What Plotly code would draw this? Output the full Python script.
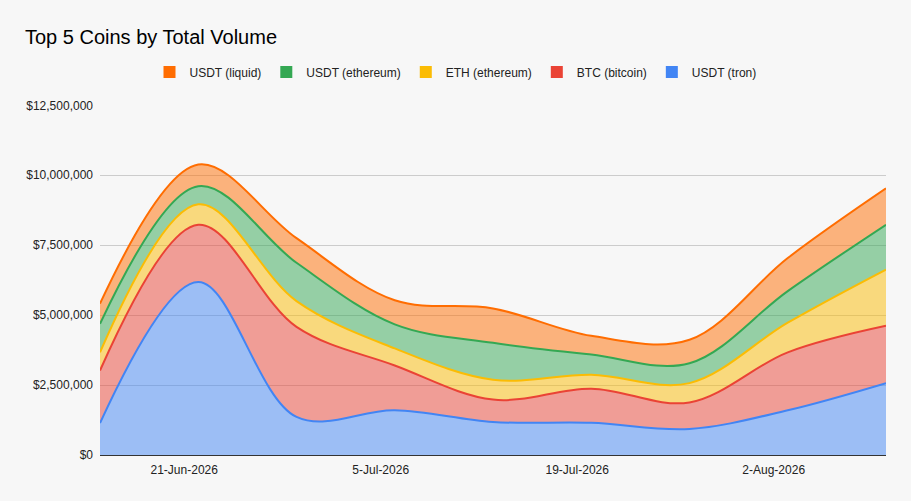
import plotly.graph_objects as go

dates = ["2026-06-15", "2026-06-22", "2026-06-29", "2026-07-06", "2026-07-13",
         "2026-07-20", "2026-07-27", "2026-08-03", "2026-08-10"]

usdt_tron = [1140000, 6180000, 1360000, 1600000, 1180000, 1150000, 930000, 1600000, 2570000]
btc_bitcoin = [1880000, 2050000, 3220000, 1600000, 800000, 1220000, 950000, 2070000, 2050000]
eth_ethereum = [650000, 730000, 920000, 610000, 710000, 500000, 690000, 1060000, 2010000]
usdt_ethereum = [1020000, 650000, 1370000, 860000, 1320000, 720000, 710000, 1130000, 1600000]
usdt_liquid = [720000, 770000, 880000, 860000, 1230000, 670000, 840000, 1180000, 1300000]

tick_vals = ["2026-06-21", "2026-07-05", "2026-07-19", "2026-08-02"]
tick_text = ["21-Jun-2026", "5-Jul-2026", "19-Jul-2026", "2-Aug-2026"]

series = [
    ("USDT (tron)", usdt_tron, "#4285F4", "rgba(66,133,244,0.5)"),
    ("BTC (bitcoin)", btc_bitcoin, "#EA4335", "rgba(234,67,53,0.5)"),
    ("ETH (ethereum)", eth_ethereum, "#FBBC04", "rgba(251,188,4,0.5)"),
    ("USDT (ethereum)", usdt_ethereum, "#34A853", "rgba(52,168,83,0.5)"),
    ("USDT (liquid)", usdt_liquid, "#FF6D01", "rgba(255,109,1,0.5)"),
]

FONT = "Liberation Sans, Arial, sans-serif"

fig = go.Figure()
for name, vals, col, fcol in series:
    fig.add_trace(go.Scatter(
        x=dates, y=vals, name=name, stackgroup="one", mode="lines",
        line=dict(color=col, width=2, shape="spline", smoothing=1),
        fillcolor=fcol, showlegend=False, hoverinfo="x+y+name",
    ))

# legend entries (square swatches), top of stack first
for name, vals, col, fcol in reversed(series):
    fig.add_trace(go.Scatter(
        x=[None], y=[None], mode="markers", name=name,
        marker=dict(symbol="square", size=12, color=col),
        showlegend=True,
    ))

fig.update_layout(
    width=911, height=501,
    paper_bgcolor="#f7f7f7", plot_bgcolor="#f7f7f7",
    margin=dict(l=100, r=25, t=103, b=46),
    font=dict(family=FONT, size=12, color="#222222"),
    title=dict(text="Top 5 Coins by Total Volume", x=25/911, xref="container",
               xanchor="left", y=1-37/501, yref="container", yanchor="middle",
               font=dict(family=FONT, size=20, color="#000000")),
    legend=dict(orientation="h", x=0.5, xanchor="center", xref="container",
                y=1-72/501, yref="container", yanchor="middle", traceorder="normal",
                font=dict(family=FONT, size=12, color="#222222"), bgcolor="rgba(0,0,0,0)",
                itemwidth=30, tracegroupgap=0),
    xaxis=dict(type="date", range=[dates[0], dates[-1]], tickvals=tick_vals,
               ticktext=tick_text, showgrid=False, zeroline=False,
               showline=True, linecolor="#333333", linewidth=1, ticks="",
               layer="below traces", ticklabelstandoff=4,
               tickfont=dict(family=FONT, size=12, color="#222222")),
    yaxis=dict(range=[0, 12500000], dtick=2500000, tick0=0, tickprefix="$",
               tickformat=",d", showgrid=True, gridcolor="#cccccc", gridwidth=1,
               zeroline=False, showline=False, ticks="", ticklabelstandoff=6,
               tickfont=dict(family=FONT, size=12, color="#222222")),
    hovermode="x unified",
)

fig.write_html("out.html", config={"displayModeBar": False},
               post_script="document.body.style.margin='0';document.body.style.background='#f7f7f7';")
